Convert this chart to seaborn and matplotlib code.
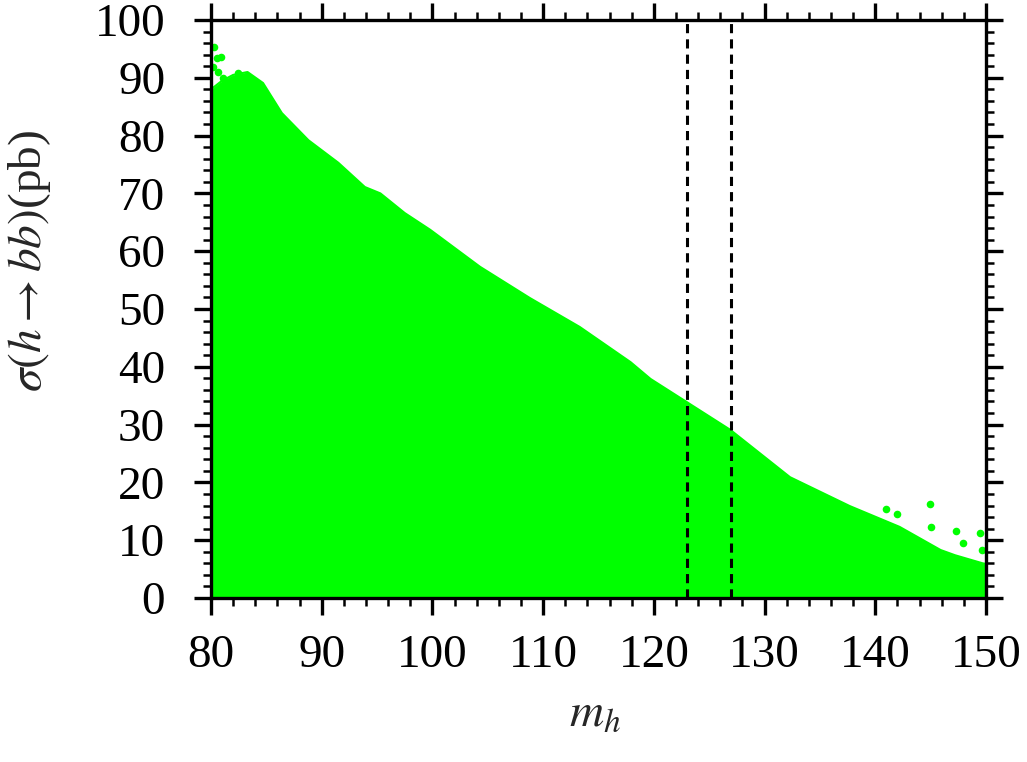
import numpy as np
import pandas as pd
import matplotlib
matplotlib.use('Agg')
import matplotlib.pyplot as plt
import seaborn as sns

# upper edge of the dense scan region
edge_mh = [80.0, 81.0, 82.0, 83.3, 84.7, 86.4, 88.8, 91.5, 93.9, 95.3, 97.5,
           99.8, 104.3, 108.8, 113.3, 117.9, 119.7, 122.4, 126.9, 132.3,
           137.7, 142.2, 145.9, 147.2, 149.7, 150.0]
edge_sigma = [88.0, 89.5, 90.5, 91.0, 89.1, 83.9, 79.2, 75.3, 71.1, 70.0, 66.6,
              63.7, 57.3, 51.9, 46.9, 40.8, 37.9, 34.6, 29.1, 20.9,
              15.9, 12.3, 8.3, 7.4, 6.0, 5.9]

# isolated points above the edge
out_mh = [80.3, 80.5, 80.9, 80.2, 80.6, 81.1, 82.4,
          141.0, 142.0, 144.9, 145.0, 147.3, 147.9, 149.5, 149.6]
out_sigma = [95.4, 93.4, 93.6, 91.9, 91.0, 90.0, 90.8,
             15.4, 14.5, 16.3, 12.3, 11.6, 9.5, 11.2, 8.3]

# mass window
window = [123, 127]

edge = pd.DataFrame({'mh': edge_mh, 'sigma': edge_sigma})
outl = pd.DataFrame({'mh': out_mh, 'sigma': out_sigma})

sns.set_theme(style='ticks')
plt.rcParams['font.family'] = ['Liberation Serif', 'DejaVu Serif']
plt.rcParams['mathtext.fontset'] = 'stix'

fig = plt.figure(figsize=(10.27, 7.62), dpi=100)
ax = fig.add_axes([211 / 1027, 1 - 598 / 762, 775 / 1027, 578 / 762])

green = '#00ff00'
ax.fill_between(edge['mh'], 0, edge['sigma'], color=green, lw=0, zorder=1)
sns.lineplot(data=edge, x='mh', y='sigma', color=green, lw=1.5, ax=ax,
             sort=False, zorder=1)
sns.scatterplot(data=outl, x='mh', y='sigma', color=green, s=30,
                edgecolor=green, linewidth=0, ax=ax, zorder=2)

for w in window:
    ax.axvline(w, color='black', lw=2.2, ls=(0, (3, 2)), zorder=3)

ax.set_xlim(80, 150)
ax.set_ylim(0, 100)
ax.set_xticks(np.arange(80, 151, 10))
ax.set_yticks(np.arange(0, 101, 10))
ax.set_xticks(np.arange(80, 151, 2), minor=True)
ax.set_yticks(np.arange(0, 101, 2), minor=True)

for s in ax.spines.values():
    s.set_linewidth(2.4)
    s.set_color('black')
    s.set_zorder(4)
ax.tick_params(which='both', direction='out', top=True, right=True,
               colors='black')
ax.tick_params(which='major', length=12, width=2.4, labelsize=34)
ax.tick_params(axis='y', which='major', pad=21)
ax.tick_params(axis='x', which='major', pad=14)
ax.tick_params(which='minor', length=6, width=1.8)

ax.set_xlabel(r'$m_h$', fontsize=34, va='center')
ax.set_ylabel(r'$\sigma(h\rightarrow bb)$(pb)', fontsize=34, va='center')
ax.xaxis.set_label_coords(0.495, -0.202)
ax.yaxis.set_label_coords(-0.234, 0.583)

fig.savefig('out.png', dpi=100)
